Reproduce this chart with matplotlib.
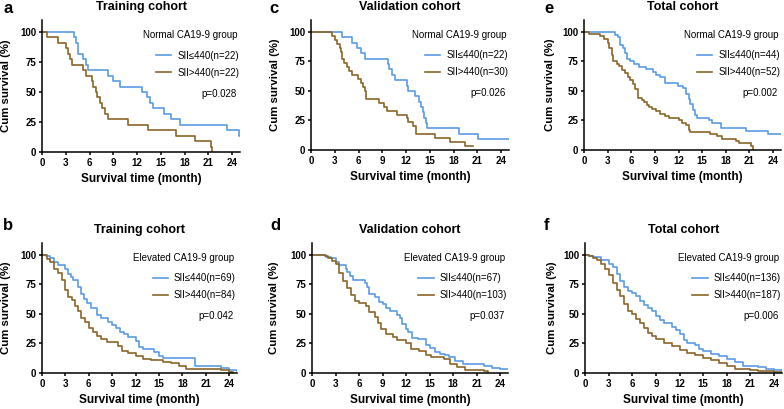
import matplotlib.pyplot as plt

plt.rcParams['font.family'] = ['Liberation Sans', 'DejaVu Sans']

blue = '#5b9be6'
brown = '#8b6528'

# Kaplan-Meier step points (time in months, survival in %)
t_a_low = [0, 4.0, 4.3, 4.5, 4.6, 5.2, 5.5, 5.8, 8.3, 9.0, 9.9, 12.6, 13.2, 13.6, 14.0, 15.4, 16.3, 17.4, 23.3, 24.9, 25]
s_a_low = [100, 95.5, 91, 86.4, 81.8, 77.3, 72.7, 68.2, 63.6, 59.1, 54.5, 50, 45.5, 40.9, 36.4, 31.8, 27.3, 22.7, 18.2, 13.6, 13.6]
t_a_high = [0, 0.6, 2.0, 3.0, 3.3, 3.5, 3.8, 5.2, 5.6, 6.3, 6.5, 6.8, 7.0, 7.3, 7.6, 8.0, 8.3, 10.8, 13.4, 16.9, 19.3, 21.3, 21.5]
s_a_high = [100, 95.5, 90.9, 86.4, 81.8, 77.3, 72.7, 68.2, 63.6, 59.1, 54.5, 50, 45.5, 40.9, 36.4, 31.8, 27.3, 22.7, 18.2, 13.6, 9.1, 4.5, 0]

t_c_low = [0, 3.9, 5.2, 5.8, 6.3, 6.8, 9.7, 9.9, 10.2, 10.6, 12.1, 12.3, 13.1, 13.6, 13.9, 14.1, 14.3, 14.5, 14.7, 18.7, 21.1, 25]
s_c_low = [100, 95.5, 90.9, 86.4, 81.8, 77.3, 72.7, 68.2, 63.6, 59.1, 54.5, 50, 45.5, 40.9, 36.4, 31.8, 27.3, 22.7, 18.2, 13.6, 9.1, 9.1]
t_c_high = [0, 2.6, 3.0, 3.3, 3.6, 3.8, 3.9, 4.2, 4.5, 4.8, 5.2, 5.9, 6.3, 6.6, 6.8, 7.0, 8.6, 9.2, 9.6, 10.8,
            12.1, 12.3, 12.9, 13.3, 15.7, 17.5, 19.4, 20.5]
s_c_high = [100, 96.7, 93.3, 90, 86.7, 83.3, 76.7, 73.3, 70, 66.7, 63.3, 60, 56.7, 53.3, 50, 43.3, 40, 36.7, 33.3, 30,
            26.7, 23.3, 20, 13.3, 10, 6.7, 3.3, 3.3]

t_e_low = [0, 3.9, 4.3, 4.6, 4.9, 5.2, 5.5, 5.9, 6.3, 7.0, 7.9, 8.8, 9.2, 9.6, 10.3, 11.9, 12.6, 12.9, 13.3, 13.5,
           13.8, 14.1, 14.4, 15.8, 16.3, 17.4, 20.6, 23.3, 25]
s_e_low = [100, 97.7, 95.5, 88.6, 86.4, 81.8, 77.3, 75, 72.7, 70.5, 68.2, 65.9, 63.6, 61.4, 56.8, 54.5, 52.3, 47.7, 43.2, 38.6,
           34.1, 29.5, 27.3, 25, 22.7, 18.2, 15.9, 13.6, 13.6]
t_e_high = [0, 0.6, 2.0, 2.6, 3.0, 3.2, 3.5, 3.7, 4.2, 4.5, 4.8, 5.2, 5.6, 5.9, 6.2, 6.5, 6.8, 6.9, 7.3, 7.6,
            8.0, 8.3, 8.6, 9.2, 9.6, 10.3, 10.8, 12.1, 12.4, 12.9, 13.3, 13.5, 16.0, 16.9, 17.5, 19.3, 19.7, 21.2, 21.4]
s_e_high = [100, 98.1, 96.2, 94.2, 90.4, 86.5, 80.8, 75, 73.1, 71.2, 67.3, 65.4, 61.5, 59.6, 55.8, 51.9, 48.1, 44.2, 42.3, 40.4,
            38.5, 36.5, 34.6, 32.7, 30.8, 28.8, 26.9, 25, 23.1, 21.2, 17.3, 15.4, 13.5, 11.5, 9.6, 7.7, 5.8, 3.8, 0]

t_b_low = [0, 0.5, 1.0, 1.5, 2.0, 3.0, 3.3, 3.7, 4.0, 4.6, 5.0, 5.4, 5.8, 6.3, 7.0, 7.5, 8.5, 9.0, 9.5, 10.0,
           10.5, 11.0, 12.0, 12.4, 12.9, 14.3, 15.0, 15.5, 19.6, 23.0, 24.0, 25]
s_b_low = [100, 98.6, 97.1, 94.2, 91.3, 88.4, 84.1, 81.2, 78.3, 72.5, 66.7, 62.3, 59.4, 55.1, 49.3, 46.4, 43.5, 40.6, 37.7, 34.8,
           33.3, 30.4, 27.5, 21.7, 20.3, 17.4, 14.5, 13.0, 5.8, 4.3, 2.9, 1.4]
t_b_high = [0, 0.6, 1.0, 1.5, 2.0, 2.5, 3.0, 3.3, 3.8, 4.2, 4.6, 5.0, 5.5, 6.0, 6.5, 7.0, 7.5, 8.3, 9.8, 10.3,
            11.0, 12.0, 13.0, 14.0, 15.5, 16.5, 17.5, 18.5, 23.0, 24.0, 24.5]
s_b_high = [100, 96.4, 94.0, 88.1, 84.5, 78.6, 70.2, 64.3, 61.9, 57.1, 52.4, 46.4, 42.9, 38.1, 34.5, 31.0, 28.6, 26.2, 22.6, 19.0,
            16.7, 14.3, 11.9, 10.7, 9.5, 8.3, 6.0, 3.6, 2.4, 1.2, 0]

t_d_low = [0, 1.8, 2.4, 3.0, 3.5, 4.3, 4.5, 4.9, 5.2, 6.8, 7.0, 7.3, 8.0, 8.5, 9.0, 9.5, 10.0, 10.8, 11.2, 11.5,
           12.0, 12.3, 12.7, 13.5, 14.5, 15.0, 15.7, 16.3, 17.0, 17.5, 18.2, 19.3, 22.0, 23.0, 24.0, 25]
s_d_low = [100, 98.5, 97.0, 94.0, 91.0, 88.1, 85.1, 82.1, 79.1, 76.1, 73.1, 67.2, 64.2, 59.7, 58.2, 55.2, 52.2, 49.3, 46.3, 41.8,
           37.3, 34.3, 29.9, 28.4, 23.9, 20.9, 17.9, 16.4, 14.9, 13.4, 10.4, 7.5, 6.0, 4.5, 3.0, 3.0]
t_d_high = [0, 1.7, 2.0, 2.5, 3.0, 3.5, 4.0, 4.5, 5.0, 5.5, 6.0, 6.9, 7.3, 8.0, 8.4, 8.8, 9.4, 10.3, 10.8, 12.0,
            12.6, 13.6, 14.5, 15.2, 16.8, 17.6, 18.5, 19.5, 22.0, 22.4]
s_d_high = [100, 99.0, 97.1, 95.1, 92.2, 84.5, 77.7, 71.8, 66.0, 61.2, 59.2, 56.3, 51.5, 47.6, 42.7, 36.9, 33.0, 30.1, 28.2, 25.2,
            20.4, 18.4, 15.5, 13.6, 11.7, 7.8, 4.9, 2.9, 1.9, 1.0]

t_f_low = [0, 0.5, 1.0, 1.5, 2.0, 3.0, 3.5, 4.0, 4.5, 5.0, 5.5, 6.0, 6.5, 7.0, 7.5, 8.0, 8.5, 9.0, 9.5, 10.0,
           11.0, 11.5, 12.0, 12.5, 13.0, 14.0, 14.5, 15.0, 16.0, 17.0, 18.0, 19.0, 20.0, 22.0, 23.0, 24.0, 25.0]
s_f_low = [100, 99.3, 98.5, 97.8, 95.6, 92.6, 89.7, 83.8, 77.9, 72.8, 69.1, 67.6, 65.4, 61.0, 57.4, 55.1, 52.2, 48.5, 44.9, 41.9,
           39.0, 36.8, 33.1, 27.9, 25.0, 23.5, 19.9, 18.4, 16.2, 14.0, 11.8, 9.6, 5.9, 5.1, 3.7, 2.2, 1.5]
t_f_high = [0, 0.5, 1.0, 1.5, 2.0, 2.5, 3.0, 3.5, 4.0, 4.5, 5.0, 5.5, 6.0, 6.5, 7.0, 7.5, 8.0, 8.5, 9.0, 10.0,
            11.0, 12.0, 13.0, 14.0, 15.0, 16.0, 17.0, 18.0, 19.0, 21.0, 22.0, 24.0, 25.0]
s_f_high = [100, 98.9, 97.3, 95.2, 92.0, 88.2, 82.9, 76.5, 70.6, 65.2, 58.3, 52.4, 49.7, 46.0, 42.2, 38.0, 34.2, 31.0, 28.9, 25.7,
            22.5, 19.3, 17.1, 15.0, 12.8, 10.7, 8.6, 5.9, 3.7, 2.7, 1.6, 1.1, 0.5]

letters = ['a', 'c', 'e', 'b', 'd', 'f']
titles = ['Training cohort', 'Validation cohort', 'Total cohort', 'Training cohort', 'Validation cohort', 'Total cohort']
groups = ['Normal CA19-9 group'] * 3 + ['Elevated CA19-9 group'] * 3
n_low = [22, 22, 44, 69, 67, 136]
n_high = [22, 30, 52, 84, 103, 187]
pvals = ['p=0.028', 'p=0.026', 'p=0.002', 'p=0.042', 'p=0.037', 'p=0.006']
curves = [(t_a_low, s_a_low, t_a_high, s_a_high), (t_c_low, s_c_low, t_c_high, s_c_high),
          (t_e_low, s_e_low, t_e_high, s_e_high), (t_b_low, s_b_low, t_b_high, s_b_high),
          (t_d_low, s_d_low, t_d_high, s_d_high), (t_f_low, s_f_low, t_f_high, s_f_high)]

W, H = 784, 409
# axes boxes in pixels: left, y of zero line, width, height
boxes = [(42, 152, 198, 132), (311, 150, 198, 130), (584, 150, 197, 130),
         (42, 373, 195, 130), (312, 373, 196, 130), (585, 373, 197, 130)]
ylab_x = [-0.155, -0.157, -0.147, -0.157, -0.168, -0.142]
letter_pos = [(3, 1), (269, 1), (544, 1), (3, 218), (270, 218), (544, 218)]

fig = plt.figure(figsize=(W / 100, H / 100), dpi=100)

for i, (x0, y0, w, h) in enumerate(boxes):
    ax = fig.add_axes([x0 / W, (H - y0) / H, w / W, h / H])
    tl, sl, th, sh = curves[i]
    ax.step(tl, sl, where='post', color=blue, lw=1.2, label=f'SII≤440(n={n_low[i]})')
    ax.step(th, sh, where='post', color=brown, lw=1.2, label=f'SII>440(n={n_high[i]})')
    ax.set_xlim(0, 25)
    ax.set_ylim(0, 110)
    ax.set_xticks(range(0, 25, 3))
    ax.set_yticks([0, 25, 50, 75, 100])
    for side in ['top', 'right']:
        ax.spines[side].set_visible(False)
    for side in ['left', 'bottom']:
        ax.spines[side].set_linewidth(1.1)
    ax.tick_params(length=2.5, width=1.1, labelsize=7, pad=1.5)
    for lab in ax.get_xticklabels() + ax.get_yticklabels():
        lab.set_fontweight('bold')
    ax.set_title(titles[i], fontsize=9, fontweight='bold', pad=7)
    ax.set_xlabel('Survival time (month)', fontsize=8.5, fontweight='bold', labelpad=4)
    ax.set_ylabel('Cum survival (%)', fontsize=8.2, fontweight='bold')
    ax.yaxis.set_label_coords(ylab_x[i], 0.5)
    ax.text(0.985, 0.886, groups[i], transform=ax.transAxes, ha='right', va='center', fontsize=7)
    ax.legend(loc='center right', bbox_to_anchor=(1.02, 0.665), frameon=False, fontsize=7,
              handlelength=1.6, handletextpad=0.6, labelspacing=0.75, borderpad=0)
    ax.text(0.985, 0.44, pvals[i], transform=ax.transAxes, ha='right', va='center', fontsize=7)
    lx, ly = letter_pos[i]
    fig.text(lx / W, 1 - ly / H, letters[i], ha='left', va='top', fontsize=12, fontweight='bold')

plt.savefig('out.png', dpi=100)
